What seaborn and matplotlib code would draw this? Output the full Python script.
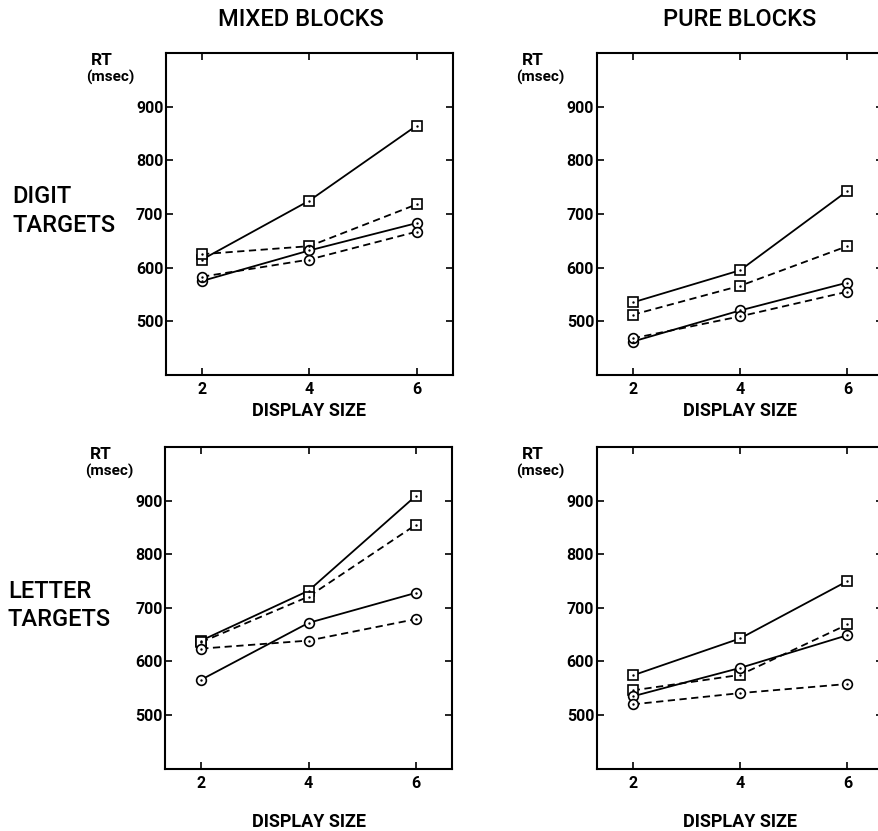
import pandas as pd
import matplotlib.pyplot as plt
import seaborn as sns

sns.set_theme(style="ticks")
plt.rcParams['font.family'] = ['Roboto', 'DejaVu Sans']
plt.rcParams.update({'text.color': 'black', 'axes.labelcolor': 'black'})

displaySizes = [2, 4, 6]
curveNames = ['sq_solid', 'sq_dash', 'ci_solid', 'ci_dash']

# mixed blocks, digit targets
mixDigSqSolid = [615, 725, 865]
mixDigSqDash = [625, 640, 718]
mixDigCiSolid = [575, 632, 683]
mixDigCiDash = [583, 615, 667]

# pure blocks, digit targets
pureDigSqSolid = [535, 595, 743]
pureDigSqDash = [512, 566, 640]
pureDigCiSolid = [462, 520, 572]
pureDigCiDash = [468, 509, 555]

# mixed blocks, letter targets
mixLetSqSolid = [639, 732, 909]
mixLetSqDash = [636, 721, 855]
mixLetCiSolid = [566, 672, 728]
mixLetCiDash = [624, 639, 679]

# pure blocks, letter targets
pureLetSqSolid = [574, 643, 750]
pureLetSqDash = [546, 575, 669]
pureLetCiSolid = [535, 588, 649]
pureLetCiDash = [520, 541, 558]

panelData = {
    ('mixed', 'digit'): [mixDigSqSolid, mixDigSqDash, mixDigCiSolid, mixDigCiDash],
    ('pure', 'digit'): [pureDigSqSolid, pureDigSqDash, pureDigCiSolid, pureDigCiDash],
    ('mixed', 'letter'): [mixLetSqSolid, mixLetSqDash, mixLetCiSolid, mixLetCiDash],
    ('pure', 'letter'): [pureLetSqSolid, pureLetSqDash, pureLetCiSolid, pureLetCiDash],
}

linhas = []
for (bloco, alvo), series in panelData.items():
    for nome, valores in zip(curveNames, series):
        for tam, rt in zip(displaySizes, valores):
            linhas.append({'bloco': bloco, 'alvo': alvo, 'curva': nome, 'tamanho': tam, 'rt': rt})
df = pd.DataFrame(linhas)

marcadores = {'sq_solid': 's', 'sq_dash': 's', 'ci_solid': 'o', 'ci_dash': 'o'}
tracos = {'sq_solid': '', 'sq_dash': (4, 2.5), 'ci_solid': '', 'ci_dash': (4, 2.5)}

fig = plt.figure(figsize=(8.79, 8.31), dpi=100)
posicoes = {
    ('mixed', 'digit'): [0.189, 0.549, 0.326, 0.387],
    ('pure', 'digit'): [0.679, 0.549, 0.326, 0.387],
    ('mixed', 'letter'): [0.188, 0.075, 0.326, 0.387],
    ('pure', 'letter'): [0.679, 0.075, 0.326, 0.387],
}

for chave, pos in posicoes.items():
    ax = fig.add_axes(pos)
    sub = df[(df['bloco'] == chave[0]) & (df['alvo'] == chave[1])]
    sns.lineplot(data=sub, x='tamanho', y='rt', style='curva', markers=marcadores,
                 dashes=tracos, color='black', lw=1.3, markersize=7,
                 markerfacecolor='white', markeredgecolor='black', markeredgewidth=1.2,
                 estimator=None, sort=False, legend=False, ax=ax)
    sns.scatterplot(data=sub, x='tamanho', y='rt', color='black', s=3, linewidth=0,
                    legend=False, ax=ax, zorder=5)

    ax.set_xlim(1.33, 6.67)
    ax.set_ylim(400, 1000)
    ax.set_xticks(displaySizes)
    ax.set_yticks([500, 600, 700, 800, 900])
    ax.tick_params(direction='in', top=True, right=True, length=5, width=1.2,
                   labelsize=11.5, colors='black')
    ax.tick_params(axis='y', pad=2)
    ax.tick_params(axis='x', pad=5)
    plt.setp(ax.get_xticklabels() + ax.get_yticklabels(), fontweight='bold')
    for s in ax.spines.values():
        s.set_linewidth(1.5)
        s.set_color('black')

    pad = 4 if chave[1] == 'digit' else 16
    ax.set_xlabel("DISPLAY SIZE", fontsize=13, fontweight='bold', labelpad=pad)
    ax.set_ylabel('')
    ax.text(-0.262, 0.978, "RT", transform=ax.transAxes, ha='left', va='center',
            fontsize=12.5, fontweight='bold')
    ax.text(-0.28, 0.925, "(msec)", transform=ax.transAxes, ha='left', va='center',
            fontsize=11, fontweight='bold')

fig.text(0.342, 0.976, "MIXED BLOCKS", ha='center', va='center', fontsize=17, fontweight='medium')
fig.text(0.842, 0.976, "PURE BLOCKS", ha='center', va='center', fontsize=17, fontweight='medium')
fig.text(0.014, 0.746, "DIGIT\nTARGETS", ha='left', va='center', fontsize=17,
         fontweight='medium', linespacing=1.3)
fig.text(0.009, 0.271, "LETTER\nTARGETS", ha='left', va='center', fontsize=17,
         fontweight='medium', linespacing=1.3)

plt.savefig("out.png", dpi=100)
